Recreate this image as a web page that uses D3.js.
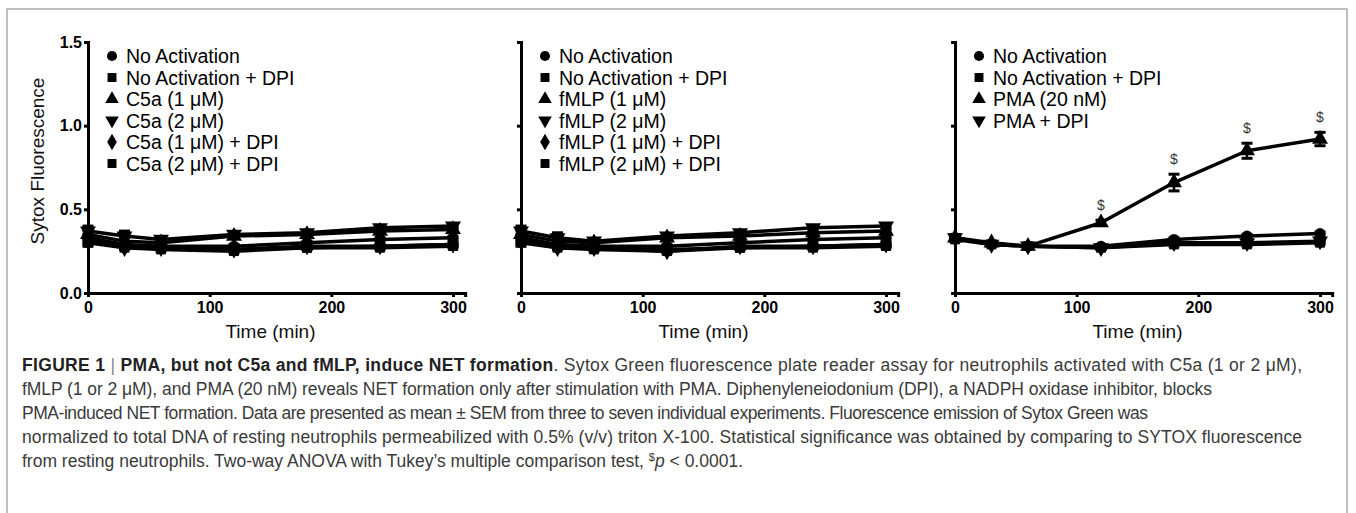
<!DOCTYPE html>
<html lang="en">
<head>
<meta charset="utf-8">
<title>Sytox fluorescence</title>
<style>
  body { margin: 0; background: #fff; }
  svg text { font-family: "Liberation Sans", Arial, sans-serif; }
  .axis .domain { stroke: #000; stroke-width: 3px; }
  .axis .tick line { stroke: #000; stroke-width: 3px; }
  .axis .tick text { font-size: 16px; font-weight: bold; fill: #000; }
  .legend text { font-size: 19.5px; fill: #000; }
  .label { font-size: 19px; font-weight: normal; fill: #111; }
  .caption { font-size: 17.5px; fill: #3a3a3a; }
</style>
</head>
<body>
<svg width="1356" height="513"></svg>
<script src="https://d3js.org/d3.v7.min.js"></script>
<script>
// time points (min)
var timePoints = [0, 30, 60, 120, 180, 240, 300];
var xTicks = [0, 100, 200, 300];
var yTicks = [0, 0.5, 1.0, 1.5];

// panel 1 - C5a
var c5aLabels = ["No Activation", "No Activation + DPI", "C5a (1 \u03bcM)", "C5a (2 \u03bcM)", "C5a (1 \u03bcM) + DPI", "C5a (2 \u03bcM) + DPI"];
var c5aMeans = [
  [0.33, 0.29, 0.28, 0.28, 0.30, 0.32, 0.33],
  [0.32, 0.28, 0.27, 0.26, 0.27, 0.28, 0.29],
  [0.35, 0.31, 0.30, 0.34, 0.35, 0.37, 0.38],
  [0.37, 0.34, 0.32, 0.35, 0.36, 0.39, 0.40],
  [0.31, 0.27, 0.27, 0.26, 0.28, 0.28, 0.29],
  [0.30, 0.27, 0.26, 0.25, 0.27, 0.27, 0.28]
];
var c5aSem = [
  [0.02, 0.01, 0.01, 0.01, 0.01, 0.01, 0.01],
  [0.02, 0.01, 0.01, 0.01, 0.01, 0.01, 0.01],
  [0.02, 0.02, 0.01, 0.01, 0.01, 0.01, 0.01],
  [0.03, 0.03, 0.01, 0.01, 0.01, 0.01, 0.01],
  [0.02, 0.01, 0.01, 0.01, 0.01, 0.01, 0.01],
  [0.02, 0.01, 0.01, 0.01, 0.01, 0.01, 0.01]
];

// panel 2 - fMLP
var fmlpLabels = ["No Activation", "No Activation + DPI", "fMLP (1 \u03bcM)", "fMLP (2 \u03bcM)", "fMLP (1 \u03bcM) + DPI", "fMLP (2 \u03bcM) + DPI"];
var fmlpMeans = [
  [0.33, 0.29, 0.28, 0.28, 0.30, 0.32, 0.33],
  [0.32, 0.28, 0.27, 0.26, 0.27, 0.28, 0.29],
  [0.35, 0.31, 0.30, 0.33, 0.34, 0.36, 0.37],
  [0.37, 0.33, 0.31, 0.34, 0.36, 0.39, 0.40],
  [0.31, 0.27, 0.27, 0.25, 0.28, 0.28, 0.29],
  [0.30, 0.27, 0.26, 0.25, 0.27, 0.27, 0.28]
];
var fmlpSem = [
  [0.02, 0.01, 0.01, 0.01, 0.01, 0.01, 0.01],
  [0.02, 0.01, 0.01, 0.01, 0.01, 0.01, 0.01],
  [0.02, 0.02, 0.01, 0.01, 0.01, 0.01, 0.01],
  [0.03, 0.03, 0.01, 0.01, 0.01, 0.01, 0.01],
  [0.02, 0.01, 0.01, 0.01, 0.01, 0.01, 0.01],
  [0.02, 0.01, 0.01, 0.01, 0.01, 0.01, 0.01]
];

// panel 3 - PMA
var pmaLabels = ["No Activation", "No Activation + DPI", "PMA (20 nM)", "PMA + DPI"];
var pmaMeans = [
  [0.33, 0.29, 0.28, 0.28, 0.32, 0.34, 0.355],
  [0.32, 0.29, 0.28, 0.27, 0.29, 0.29, 0.30],
  [0.33, 0.30, 0.28, 0.42, 0.66, 0.85, 0.92],
  [0.33, 0.29, 0.28, 0.27, 0.30, 0.30, 0.31]
];
var pmaSem = [
  [0.01, 0.01, 0.01, 0.01, 0.01, 0.01, 0.01],
  [0.01, 0.01, 0.01, 0.01, 0.01, 0.01, 0.01],
  [0.02, 0.01, 0.01, 0.015, 0.05, 0.045, 0.04],
  [0.01, 0.01, 0.01, 0.01, 0.01, 0.01, 0.01]
];
var pmaSigTimes = [120, 180, 240, 300];

var symbolTypes = [d3.symbolCircle, d3.symbolSquare, d3.symbolTriangle, d3.symbolTriangle, d3.symbolDiamond, d3.symbolSquare];
var symbolFlip = [0, 0, 0, 180, 0, 0];

var svg = d3.select("svg");

// page border
svg.append("path")
  .attr("d", "M7,520 V9 H1347 V520")
  .attr("fill", "none")
  .attr("stroke", "#aaa")
  .attr("stroke-width", 1.5);

var y = d3.scaleLinear().domain([0, 1.5]).range([293, 42]);

var panels = [
  { left: 88, labels: c5aLabels, means: c5aMeans, sem: c5aSem, yLabels: true, sig: [] },
  { left: 521, labels: fmlpLabels, means: fmlpMeans, sem: fmlpSem, yLabels: false, sig: [] },
  { left: 955, labels: pmaLabels, means: pmaMeans, sem: pmaSem, yLabels: false, sig: pmaSigTimes }
];

panels.forEach(function(p) {
  var x = d3.scaleLinear().domain([0, 310]).range([p.left, p.left + 310 * 365 / 300]);
  var g = svg.append("g");

  g.append("g").attr("class", "axis")
    .attr("transform", "translate(0,293)")
    .call(d3.axisBottom(x).tickValues(xTicks).tickSizeOuter(0).tickSize(4).tickPadding(5));

  g.append("g").attr("class", "axis")
    .attr("transform", "translate(" + p.left + ",0)")
    .call(d3.axisLeft(y).tickValues(yTicks).tickSizeOuter(0).tickSize(4).tickPadding(2)
      .tickFormat(p.yLabels ? d3.format(".1f") : function() { return ""; }));

  g.append("text").attr("class", "label")
    .attr("x", x(150)).attr("y", 338)
    .attr("text-anchor", "middle")
    .text("Time (min)");

  var line = d3.line().x(function(d, i) { return x(timePoints[i]); }).y(function(d) { return y(d); });

  p.means.forEach(function(s) {
    g.append("path").datum(s)
      .attr("d", line)
      .attr("fill", "none")
      .attr("stroke", "#000")
      .attr("stroke-width", 3.5)
      .attr("stroke-linejoin", "round");
  });

  p.means.forEach(function(s, k) {
    var eb = g.append("g");
    s.forEach(function(v, i) {
      var e = p.sem[k][i];
      var cx = x(timePoints[i]);
      eb.append("line").attr("x1", cx).attr("x2", cx).attr("y1", y(v - e)).attr("y2", y(v + e))
        .attr("stroke", "#000").attr("stroke-width", 2.5);
      [v - e, v + e].forEach(function(w) {
        eb.append("line").attr("x1", cx - 5.5).attr("x2", cx + 5.5).attr("y1", y(w)).attr("y2", y(w))
          .attr("stroke", "#000").attr("stroke-width", 3);
      });
    });
    g.append("g").selectAll("path").data(s).join("path")
      .attr("transform", function(d, i) { return "translate(" + x(timePoints[i]) + "," + y(d) + ") rotate(" + symbolFlip[k] + ")"; })
      .attr("d", d3.symbol().type(symbolTypes[k]).size(k >= 2 && k <= 3 ? 110 : 95))
      .attr("fill", "#000");
  });

  // significance markers
  var pma = p.means[2], pmaE = p.sem[2];
  p.sig.forEach(function(t) {
    var i = timePoints.indexOf(t);
    g.append("text")
      .attr("x", x(t)).attr("y", y(pma[i] + pmaE[i]) - 10)
      .attr("text-anchor", "middle")
      .style("font-size", "14px").style("fill", "#333")
      .text("$");
  });

  // legend
  var lg = g.append("g").attr("class", "legend");
  p.labels.forEach(function(lab, k) {
    var ly = 56 + k * 21.5;
    lg.append("path")
      .attr("transform", "translate(" + (p.left + 24) + "," + ly + ") rotate(" + symbolFlip[k] + ")")
      .attr("d", d3.symbol().type(symbolTypes[k]).size(80))
      .attr("fill", "#000");
    lg.append("text")
      .attr("x", p.left + 38).attr("y", ly + 7)
      .text(lab);
  });
});

svg.append("text").attr("class", "label")
  .attr("transform", "translate(44,161) rotate(-90)")
  .attr("text-anchor", "middle")
  .text("Sytox Fluorescence");

// caption
var cap = svg.append("g").attr("class", "caption");
var l1 = cap.append("text").attr("x", 22).attr("y", 371).attr("textLength", 1280).attr("lengthAdjust", "spacing");
l1.append("tspan").style("font-weight", "bold").style("fill", "#222").text("FIGURE 1 ");
l1.append("tspan").style("fill", "#888").text("|");
l1.append("tspan").style("font-weight", "bold").style("fill", "#222").text(" PMA, but not C5a and fMLP, induce NET formation");
l1.append("tspan").text(". Sytox Green fluorescence plate reader assay for neutrophils activated with C5a (1 or 2 \u03bcM),");

cap.append("text").attr("x", 22).attr("y", 395).attr("textLength", 1190).attr("lengthAdjust", "spacing")
  .text("fMLP (1 or 2 \u03bcM), and PMA (20 nM) reveals NET formation only after stimulation with PMA. Diphenyleneiodonium (DPI), a NADPH oxidase inhibitor, blocks");
cap.append("text").attr("x", 22).attr("y", 419).attr("textLength", 1126).attr("lengthAdjust", "spacing")
  .text("PMA-induced NET formation. Data are presented as mean \u00b1 SEM from three to seven individual experiments. Fluorescence emission of Sytox Green was");
cap.append("text").attr("x", 22).attr("y", 443).attr("textLength", 1280).attr("lengthAdjust", "spacing")
  .text("normalized to total DNA of resting neutrophils permeabilized with 0.5% (v/v) triton X-100. Statistical significance was obtained by comparing to SYTOX fluorescence");
var l5 = cap.append("text").attr("x", 22).attr("y", 467).attr("textLength", 721).attr("lengthAdjust", "spacing");
l5.append("tspan").text("from resting neutrophils. Two-way ANOVA with Tukey\u2019s multiple comparison test, ");
l5.append("tspan").attr("dy", -6).style("font-size", "11px").text("$");
l5.append("tspan").attr("dy", 6).style("font-style", "italic").text("p");
l5.append("tspan").text(" < 0.0001.");
</script>
</body>
</html>
